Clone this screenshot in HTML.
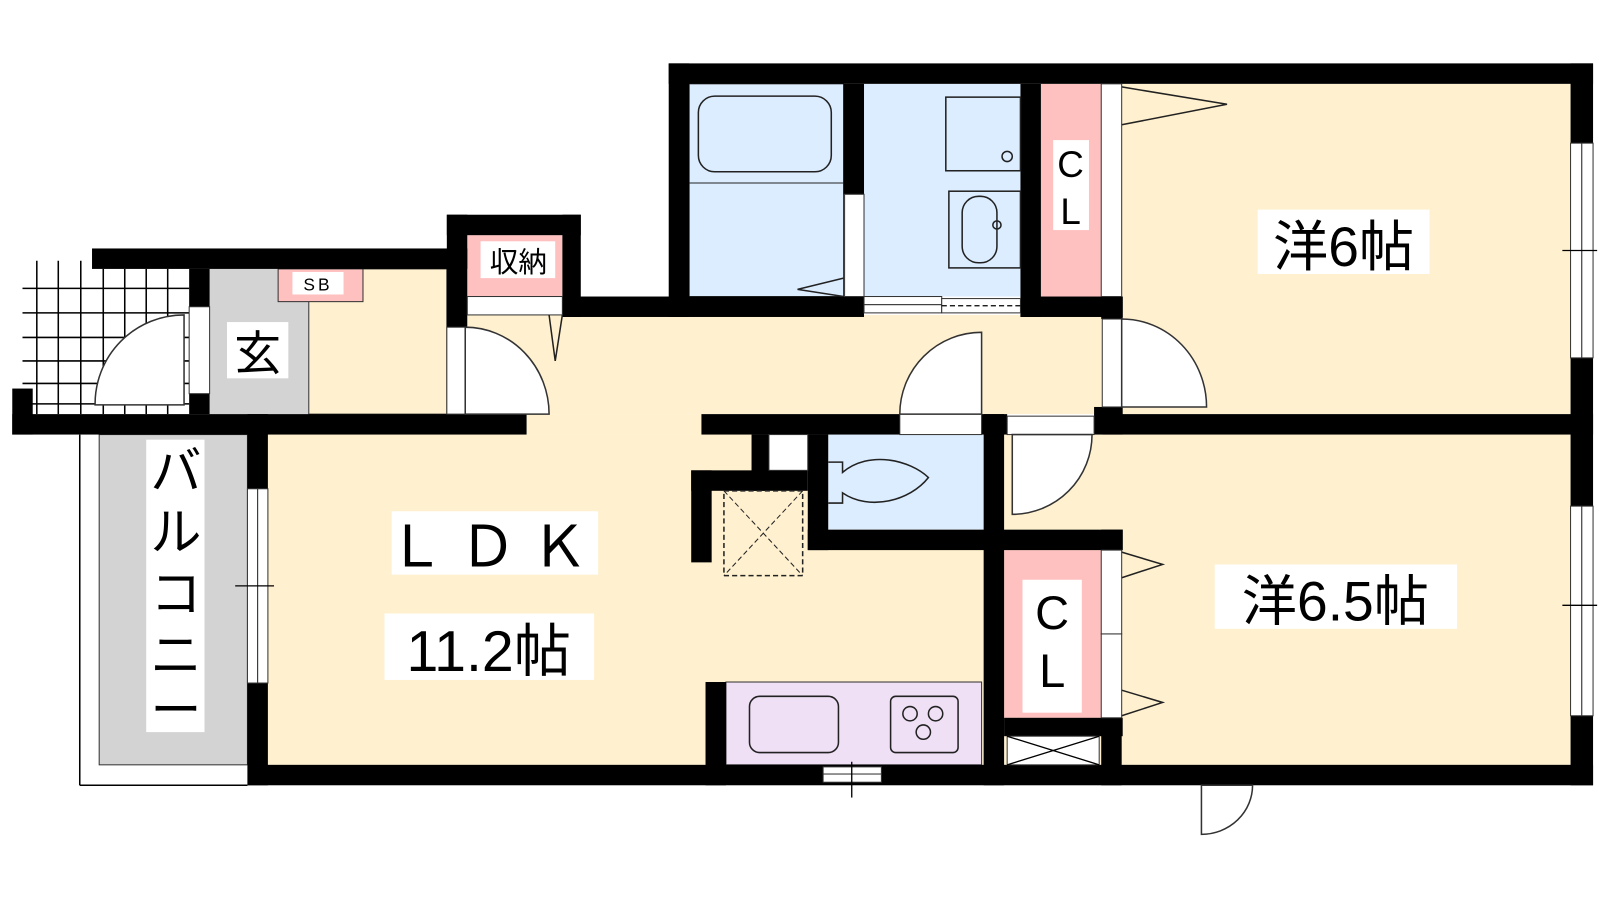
<!DOCTYPE html>
<html><head><meta charset="utf-8"><style>
html,body{margin:0;padding:0;background:#fff}
svg{display:block}
text{font-family:"Liberation Sans","Noto Sans CJK JP",sans-serif;fill:#000}
</style></head><body>
<svg width="1600" height="900" viewBox="0 0 1600 900" xmlns="http://www.w3.org/2000/svg">
<rect width="1600" height="900" fill="#fff"/>
<g transform="scale(1.0225)">
<!-- balcony grid -->
<g stroke="#000" stroke-width="1.5">
<line x1="36" y1="255" x2="36" y2="405"/><line x1="57" y1="255" x2="57" y2="405"/><line x1="79" y1="255" x2="79" y2="405"/>
<line x1="101" y1="263" x2="101" y2="405"/><line x1="122" y1="263" x2="122" y2="405"/><line x1="143" y1="263" x2="143" y2="405"/><line x1="164" y1="263" x2="164" y2="405"/>
<line x1="22" y1="282" x2="185" y2="282"/><line x1="22" y1="306" x2="185" y2="306"/><line x1="22" y1="330" x2="185" y2="330"/><line x1="22" y1="353" x2="185" y2="353"/><line x1="22" y1="375" x2="185" y2="375"/><line x1="30" y1="395" x2="185" y2="395"/>
</g>
<path d="M93,396 A87,87 0 0 1 180,308 L180,396 Z" fill="#fff" stroke="#333" stroke-width="1.5"/>
<!-- balcony -->
<line x1="78" y1="425" x2="78" y2="768" stroke="#000" stroke-width="1.5"/>
<line x1="78" y1="768" x2="242" y2="768" stroke="#000" stroke-width="1.5"/>
<rect x="97" y="425" width="145" height="323" fill="#d3d3d3" stroke="#333" stroke-width="1"/>
<!-- floors -->
<rect x="205" y="263" width="97" height="142" fill="#d3d3d3"/>
<rect x="302" y="263" width="135" height="142" fill="#fff1cf" stroke="#333" stroke-width="1"/>
<rect x="457" y="308" width="621" height="97" fill="#fff1cf"/>
<rect x="1097" y="82" width="439" height="323" fill="#fff1cf"/>
<rect x="262" y="425" width="700" height="323" fill="#fff1cf"/>
<rect x="515" y="405" width="171" height="20" fill="#fff1cf"/>
<rect x="982" y="425" width="554" height="323" fill="#fff1cf"/>
<rect x="674" y="82" width="151" height="208" fill="#dcedff" stroke="#333" stroke-width="1"/>
<rect x="845" y="82" width="153" height="208" fill="#dcedff"/>
<rect x="810" y="425" width="152" height="93" fill="#dcedff"/>
<rect x="1018" y="82" width="59" height="208" fill="#ffc0c0"/>
<rect x="982" y="538" width="95" height="164" fill="#ffc0c0"/>
<rect x="272" y="263" width="83" height="32" fill="#ffc0c0" stroke="#333" stroke-width="1"/>
<rect x="457" y="230" width="93" height="60" fill="#ffc0c0"/>
<rect x="710" y="667" width="250" height="81" fill="#efe0f5" stroke="#333" stroke-width="1"/>
<!-- walls -->
<g fill="#000">
<rect x="654" y="62" width="904" height="20"/>
<rect x="654" y="62" width="20" height="248"/>
<rect x="1536" y="62" width="22" height="706"/>
<rect x="242" y="748" width="1316" height="20"/>
<rect x="242" y="405" width="20" height="363"/>
<rect x="12" y="405" width="503" height="20"/>
<rect x="12" y="380" width="20" height="45"/>
<rect x="90" y="243" width="367" height="20"/>
<rect x="185" y="263" width="20" height="37"/>
<rect x="185" y="385" width="20" height="20"/>
<rect x="437" y="210" width="131" height="20"/>
<rect x="437" y="210" width="20" height="110"/>
<rect x="550" y="210" width="18" height="100"/>
<rect x="550" y="290" width="295" height="20"/>
<rect x="825" y="82" width="20" height="108"/>
<rect x="998" y="82" width="20" height="228"/>
<rect x="998" y="290" width="100" height="20"/>
<rect x="1077" y="290" width="21" height="22"/>
<rect x="1070" y="398" width="28" height="27"/>
<rect x="1078" y="405" width="480" height="20"/>
<rect x="686" y="405" width="194" height="20"/>
<rect x="960" y="405" width="25" height="20"/>
<rect x="962" y="405" width="20" height="363"/>
<rect x="735" y="425" width="17" height="55"/>
<rect x="790" y="425" width="20" height="113"/>
<rect x="676" y="460" width="114" height="20"/>
<rect x="676" y="460" width="20" height="90"/>
<rect x="790" y="518" width="308" height="20"/>
<rect x="1077" y="518" width="21" height="20"/>
<rect x="982" y="702" width="116" height="18"/>
<rect x="1077" y="702" width="20" height="66"/>
<rect x="690" y="667" width="20" height="101"/>
</g>
<!-- whites: doors/windows -->
<g fill="#fff" stroke="#333" stroke-width="1">
<rect x="185" y="300" width="20" height="85"/>
<rect x="457" y="290" width="93" height="18"/>
<rect x="437" y="320" width="18" height="85"/>
<rect x="826" y="190" width="19" height="100"/>
<rect x="845" y="290" width="76" height="8"/><rect x="845" y="298" width="76" height="8"/>
<rect x="921" y="292" width="77" height="14"/>
<rect x="1077" y="82" width="20" height="208"/>
<rect x="1078" y="312" width="19" height="86"/>
<rect x="880" y="405" width="80" height="20"/>
<rect x="985" y="407" width="85" height="18"/>
<rect x="752" y="425" width="38" height="35"/>
<rect x="1077" y="538" width="20" height="82"/><rect x="1077" y="620" width="20" height="82"/>
<rect x="985" y="720" width="90" height="28"/>
<rect x="1536" y="140" width="11" height="210"/><rect x="1547" y="140" width="11" height="210"/>
<rect x="1536" y="495" width="11" height="205"/><rect x="1547" y="495" width="11" height="205"/>
<rect x="242" y="478" width="10" height="190"/><rect x="252" y="478" width="10" height="190"/>
<rect x="805" y="750" width="57" height="7"/><rect x="805" y="757" width="57" height="8"/>
</g>
<g stroke="#000" stroke-width="1.3">
<line x1="230" y1="573" x2="268" y2="573"/>
<line x1="1528" y1="245" x2="1562" y2="245"/>
<line x1="1528" y1="592" x2="1562" y2="592"/>
<line x1="833" y1="745" x2="833" y2="780"/>
<line x1="921" y1="299" x2="998" y2="299" stroke-dasharray="5,3"/>
<line x1="985" y1="720" x2="1075" y2="748"/><line x1="985" y1="748" x2="1075" y2="720"/>
</g>
<!-- door arcs -->
<g fill="#fff" stroke="#333" stroke-width="1.5">
<path d="M455,320 A82,85 0 0 1 537,405 L455,405 Z"/>
<path d="M1097,312 A83,86 0 0 1 1180,398 L1097,398 Z"/>
<path d="M880,405 A80,80 0 0 1 960,325 L960,405 Z"/>
<path d="M1068,425 A78,78 0 0 1 990,503 L990,425 Z"/>
<path d="M1175,768 L1225,768 A50,48 0 0 1 1175,816 Z"/>
</g>
<!-- fixtures -->
<g fill="none" stroke="#222" stroke-width="1.5">
<rect x="683" y="94" width="130" height="74" rx="16"/>
<line x1="674" y1="179" x2="825" y2="179" stroke-width="1"/>
<polyline points="825,272 780,283 825,290"/>
<polyline points="537,308 543,353 550,308"/>
<rect x="925" y="95" width="73" height="72"/>
<circle cx="985" cy="153" r="5"/>
<rect x="928" y="187" width="70" height="75"/>
<rect x="941" y="192" width="34" height="65" rx="16"/>
<circle cx="975" cy="220" r="4"/>
<polyline points="1097,85 1200,102 1097,122"/>
<polyline points="1097,540 1137,552 1097,565"/>
<polyline points="1097,675 1137,687 1097,700"/>
<path d="M810,452 h14 v10 C850,440 890,450 908,467 C890,490 850,500 824,482 v10 h-14"/>
<rect x="708" y="480" width="77" height="83" stroke-dasharray="5,3"/>
<line x1="708" y1="480" x2="785" y2="563" stroke-dasharray="5,3" stroke-width="1"/>
<line x1="785" y1="480" x2="708" y2="563" stroke-dasharray="5,3" stroke-width="1"/>
<rect x="733" y="681" width="87" height="55" rx="10"/>
<rect x="871" y="681" width="66" height="55" rx="5"/>
<circle cx="890" cy="698" r="7"/><circle cx="915" cy="698" r="7"/><circle cx="903" cy="716" r="7"/>
</g>
<!-- labels -->
<g fill="#fff">
<rect x="222" y="315" width="60" height="55"/>
<rect x="286" y="266" width="50" height="22"/>
<rect x="470" y="236" width="73" height="36"/>
<rect x="1030" y="137" width="35" height="88"/>
<rect x="1230" y="205" width="168" height="63"/>
<rect x="1188" y="552" width="237" height="63"/>
<rect x="383" y="500" width="202" height="62"/>
<rect x="376" y="600" width="205" height="65"/>
<rect x="143" y="430" width="57" height="286"/>
<rect x="1000" y="567" width="58" height="130"/>
</g>
<text x="252" y="362" font-size="46" text-anchor="middle">玄</text>
<text x="311" y="284" font-size="17" text-anchor="middle" letter-spacing="3">SB</text>
<text x="507" y="266" font-size="28" text-anchor="middle">収納</text>
<text x="1047" y="173" font-size="36" text-anchor="middle">C</text>
<text x="1047" y="219" font-size="36" text-anchor="middle">L</text>
<text x="1029" y="615" font-size="46" text-anchor="middle">C</text>
<text x="1029" y="672" font-size="46" text-anchor="middle">L</text>
<text x="1314" y="260" font-size="54" text-anchor="middle">洋6帖</text>
<text x="1306" y="607" font-size="54" text-anchor="middle">洋6.5帖</text>
<text x="484" y="554" font-size="56" text-anchor="middle" letter-spacing="14">ＬＤＫ</text>
<text x="478" y="656" font-size="56" text-anchor="middle">11.2帖</text>
<g font-size="50" text-anchor="middle">
<text x="172" y="478">バ</text><text x="172" y="538">ル</text><text x="172" y="598">コ</text><text x="172" y="658">ニ</text><text x="172" y="712">ー</text>
</g>
</g>
</svg>
</body></html>
